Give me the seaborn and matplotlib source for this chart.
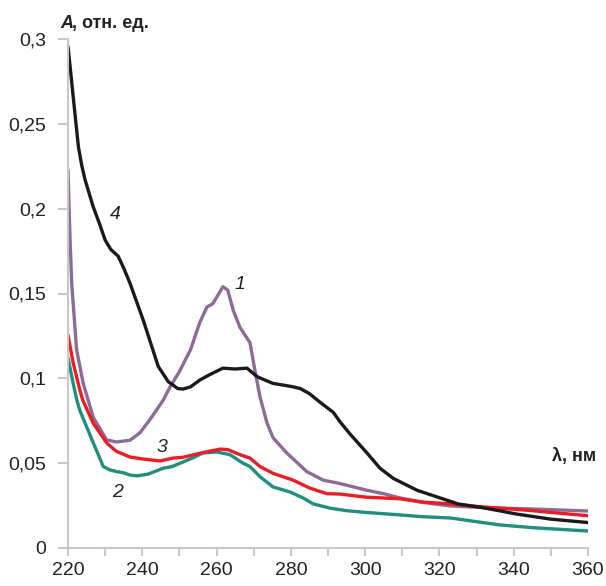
import matplotlib
matplotlib.use("Agg")
import matplotlib.pyplot as plt
import seaborn as sns
import pandas as pd
from matplotlib.ticker import FuncFormatter, MultipleLocator

# ---- data ----
wl_4 = [220, 220.7, 221.4, 222.8, 223.7, 224.6, 226.8, 228.5, 230, 231.5, 233.5, 235, 236.7, 240.3, 244.3, 247, 248.3, 249.5, 251,
        253, 255.5, 258, 261.7, 265, 268.2, 270.9, 273, 275.2, 278, 280.6, 282.5, 285, 287.8,
        291.4, 293.2, 296, 300.5, 304, 307.6, 314, 320.2, 325, 331, 336, 340.8, 350, 360]
a_4 = [0.2955, 0.281, 0.266, 0.2365, 0.2255, 0.217, 0.201, 0.191, 0.1815, 0.176, 0.172, 0.165, 0.156, 0.134, 0.107, 0.098, 0.096, 0.094, 0.0937,
       0.095, 0.099, 0.102, 0.106, 0.1055, 0.106, 0.101, 0.099, 0.097, 0.096, 0.095, 0.094, 0.091, 0.086,
       0.080, 0.0745, 0.067, 0.056, 0.047, 0.041, 0.034, 0.0295, 0.026, 0.024, 0.022, 0.020, 0.017, 0.015]

wl_1 = [220, 220.5, 221, 222.3, 224.1, 226.8, 230.4, 233, 236.7, 239.4, 242, 245.6, 247.5, 250, 253, 255.5,
        257.4, 259, 261.7, 263, 264.5, 266.3, 269, 270.3, 271.7, 273.6, 275.2, 278.9, 284.3, 288.7,
        293.2, 300.5, 305, 309.4, 315, 322.9, 330, 336.3, 345, 360]
a_1 = [0.223, 0.185, 0.156, 0.117, 0.097, 0.077, 0.0637, 0.0625, 0.0635, 0.068, 0.0755, 0.087, 0.095, 0.104, 0.117, 0.133,
       0.142, 0.144, 0.154, 0.152, 0.140, 0.130, 0.121, 0.105, 0.089, 0.0735, 0.065, 0.056, 0.045, 0.040,
       0.038, 0.034, 0.032, 0.0295, 0.027, 0.0248, 0.024, 0.0235, 0.023, 0.0218]

wl_3 = [220, 221.4, 223.2, 224, 226.8, 230.5, 233, 236.7, 240, 244.8, 248.3, 251, 254.7, 258, 261,
        263, 266.3, 269, 271.7, 275.2, 280.6, 285, 289.7, 293.2, 300, 309.4, 316, 322.9, 330, 336.3,
        345, 360]
a_3 = [0.1255, 0.109, 0.093, 0.087, 0.0735, 0.0617, 0.057, 0.0536, 0.0525, 0.0513, 0.053, 0.0535, 0.0554, 0.057, 0.0583,
       0.058, 0.055, 0.053, 0.048, 0.044, 0.040, 0.0354, 0.032, 0.0318, 0.030, 0.029, 0.027, 0.026, 0.0245, 0.0235,
       0.022, 0.019]

wl_2 = [220, 221.4, 222.4, 223.2, 226.8, 229.5, 231.3, 233.2, 235, 236.7, 238.5, 241.5, 245.6, 248, 251,
        253.5, 256.3, 260.1, 263.6, 267.1, 269, 271.7, 275.2, 279.8, 283.3, 286, 290.5, 295, 300, 309.4,
        315, 322.9, 330, 336.3, 345, 360]
a_2 = [0.112, 0.097, 0.087, 0.081, 0.062, 0.048, 0.046, 0.045, 0.0443, 0.043, 0.0425, 0.0435, 0.047, 0.048, 0.0507,
       0.053, 0.056, 0.0566, 0.055, 0.050, 0.048, 0.042, 0.036, 0.033, 0.0295, 0.026, 0.0235, 0.022, 0.021, 0.0195,
       0.0185, 0.0177, 0.0155, 0.0136, 0.012, 0.010]

series_names = ["1", "2", "3", "4"]
colors = {"1": "#8d6b97", "2": "#1f8f80", "3": "#ec1c24", "4": "#1a1a1a"}

x_ticks = [220, 240, 260, 280, 300, 320, 340, 360]
y_ticks = [0, 0.05, 0.1, 0.15, 0.2, 0.25, 0.3]

df = pd.concat([
    pd.DataFrame({"wl": wl_1, "A": a_1, "s": "1"}),
    pd.DataFrame({"wl": wl_2, "A": a_2, "s": "2"}),
    pd.DataFrame({"wl": wl_3, "A": a_3, "s": "3"}),
    pd.DataFrame({"wl": wl_4, "A": a_4, "s": "4"}),
], ignore_index=True)

sns.set_style("white")
FAM = ["Liberation Sans Narrow", "Liberation Sans", "DejaVu Sans"]
plt.rcParams["font.family"] = FAM

fig = plt.figure(figsize=(6.06, 5.86), dpi=100)
ax = fig.add_axes([68 / 606, 1 - 548 / 586, 520 / 606, 509 / 586])

sns.lineplot(data=df, x="wl", y="A", hue="s", palette=colors, hue_order=series_names,
             ax=ax, linewidth=2.4, legend=False, sort=True, estimator=None)
for ln in ax.get_lines():
    ln.set_solid_joinstyle("round")
    ln.set_solid_capstyle("round")

ax.set_xlim(220, 360)
ax.set_ylim(0, 0.3)
ax.set_xlabel("")
ax.set_ylabel("")
ax.set_xticks(x_ticks)
ax.xaxis.set_minor_locator(MultipleLocator(10))
ax.set_yticks(y_ticks)

def comma(v, pos):
    if abs(v) < 1e-9:
        return "0"
    s = ("%.2f" % v).rstrip("0").rstrip(".")
    return s.replace(".", ",")

ax.yaxis.set_major_formatter(FuncFormatter(comma))
ax.xaxis.set_major_formatter(FuncFormatter(lambda v, p: "%d" % v))

for sp in ["top", "right"]:
    ax.spines[sp].set_visible(False)
for sp in ["left", "bottom"]:
    ax.spines[sp].set_color("#c8c8c8")
    ax.spines[sp].set_linewidth(1.5)

ax.tick_params(axis="both", which="both", direction="out", color="#c8c8c8", width=1.5,
               labelsize=14, labelcolor="#222222", bottom=True, left=True)
ax.tick_params(axis="y", length=7, pad=9)
ax.tick_params(axis="x", which="major", length=6, pad=4)
ax.tick_params(axis="x", which="minor", length=6)

# curve labels
lab_kw = dict(fontsize=14, style="italic", color="#222222", ha="center", va="center")
ax.text(232.8, 0.1965, "4", **lab_kw)
ax.text(266.2, 0.1555, "1", **lab_kw)
ax.text(245.4, 0.0595, "3", **lab_kw)
ax.text(233.3, 0.0330, "2", **lab_kw)

# axis titles
fig.text(60 / 606, 1 - 24 / 586, "A", fontsize=13, fontweight="bold",
         ha="left", va="center", color="#222222", style="italic")
fig.text(72 / 606, 1 - 24 / 586, ", отн. ед.", fontsize=13, fontweight="bold",
         ha="left", va="center", color="#222222")
fig.text(596 / 606, 1 - 456 / 586, "λ, нм", fontsize=13, fontweight="bold",
         ha="right", va="center", color="#222222")

fig.savefig("out.png", dpi=100)
